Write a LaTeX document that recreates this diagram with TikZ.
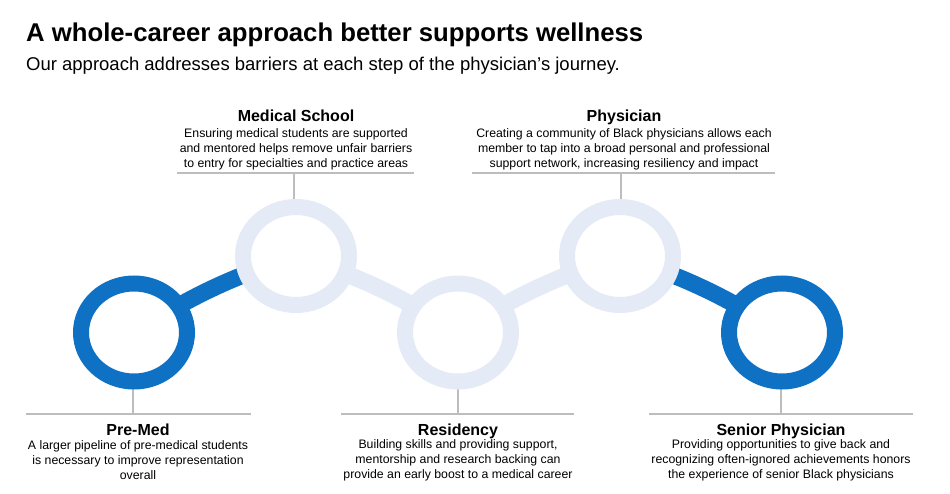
\documentclass[tikz,border=0pt]{standalone}
\usepackage{fontspec}
\setmainfont{Liberation Sans}
\usetikzlibrary{shapes.geometric,backgrounds}
\definecolor{careerblue}{HTML}{0E71C4}
\definecolor{careerpale}{HTML}{E4EAF6}
\definecolor{rulegray}{HTML}{BDBDBD}

\begin{document}
\begin{tikzpicture}[
    x=1pt, y=-1pt,
    ring/.style={ellipse, draw, line width=16pt, fill=white, minimum width=106pt, minimum height=98pt, inner sep=0pt},
    done/.style={ring, draw=careerblue},
    todo/.style={ring, draw=careerpale},
    link/.style={line width=17pt},
    rule/.style={draw=rulegray, line width=1.2pt},
    head/.style={font=\fontsize{16}{19}\selectfont\bfseries, text height=11.5pt, text depth=3pt, inner sep=0pt},
    desc/.style={font=\fontsize{12.3}{15}\selectfont, align=center, inner sep=0pt}
]
\useasboundingbox (0,0) rectangle (950,494);

% title
\node[anchor=base west, inner sep=0pt, font=\fontsize{25.7}{30}\selectfont\bfseries] (title) at (26,42) {A whole-career approach better supports wellness};
\node[anchor=base west, inner sep=0pt, font=\fontsize{18.5}{22}\selectfont] (subtitle) at (26,71) {Our approach addresses barriers at each step of the physician’s journey.};

% stages
\node[done] (premed) at (134,332.5) {};
\node[todo] (medschool) at (296,256) {};
\node[todo] (residency) at (458,332.5) {};
\node[todo] (physician) at (620,256) {};
\node[done] (senior) at (782,332.5) {};

% labels
\node[head] (msname) at (296,117) {Medical School};
\node[desc] (msdesc) at (296,149) {Ensuring medical students are supported\\and mentored helps remove unfair barriers\\to entry for specialties and practice areas};
\node[head] (phname) at (624,117) {Physician};
\node[desc] (phdesc) at (624,149) {Creating a community of Black physicians allows each\\member to tap into a broad personal and professional\\support network, increasing resiliency and impact};
\node[head] (pmname) at (138,431) {Pre-Med};
\node[desc] (pmdesc) at (138,460) {A larger pipeline of pre-medical students\\is necessary to improve representation\\overall};
\node[head] (rsname) at (458,431) {Residency};
\node[desc] (rsdesc) at (458,460) {Building skills and providing support,\\mentorship and research backing can\\provide an early boost to a medical career};
\node[head] (spname) at (781,431) {Senior Physician};
\node[desc] (spdesc) at (781,460) {Providing opportunities to give back and\\recognizing often-ignored achievements honors\\the experience of senior Black physicians};

\coordinate (mstick) at (294,173);
\coordinate (phtick) at (621,173);
\coordinate (pmtick) at (133,414);
\coordinate (rstick) at (458,414);
\coordinate (sptick) at (781,414);
\draw[rule] (177,173) -- (414,173);
\draw[rule] (472,173) -- (775,173);
\draw[rule] (26,414) -- (251,414);
\draw[rule] (341,414) -- (574,414);
\draw[rule] (649,414) -- (913,414);

\begin{scope}[on background layer]
\draw[rule] (mstick) -- (mstick |- medschool.center);
\draw[rule] (phtick) -- (phtick |- physician.center);
\draw[rule] (pmtick) -- (pmtick |- premed.center);
\draw[rule] (rstick) -- (rstick |- residency.center);
\draw[rule] (sptick) -- (sptick |- senior.center);

\draw[link, careerblue] (premed.center) to[bend left=7] (medschool.center);
\draw[link, careerpale] (medschool.center) to[bend left=7] (residency.center);
\draw[link, careerpale] (residency.center) to[bend left=7] (physician.center);
\draw[link, careerblue] (physician.center) to[bend left=7] (senior.center);
\end{scope}
\end{tikzpicture}
\end{document}
